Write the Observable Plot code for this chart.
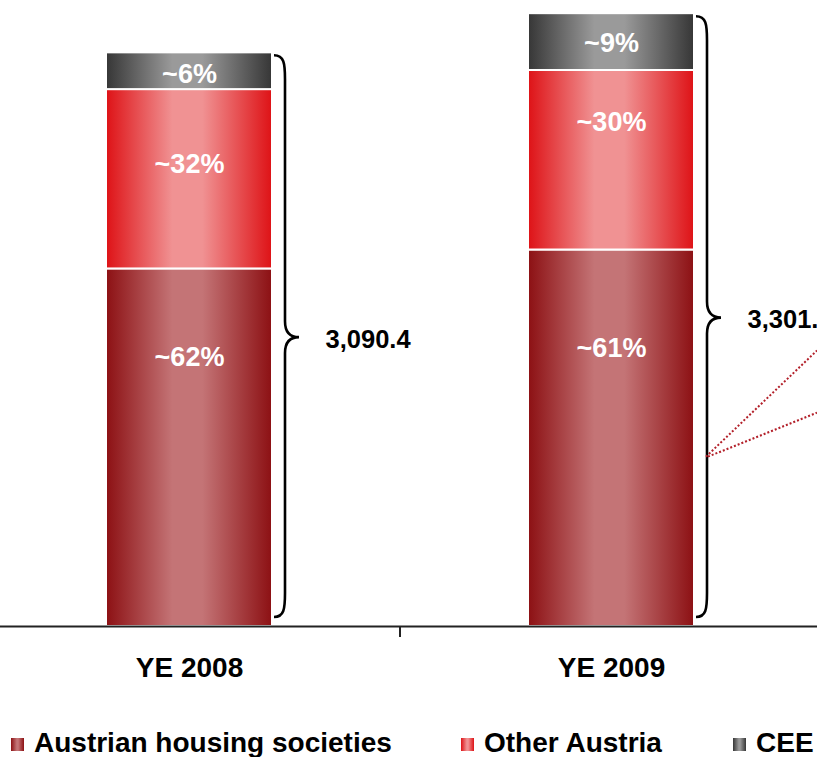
<!DOCTYPE html>
<html>
<head>
<meta charset="utf-8">
<script src="https://cdn.jsdelivr.net/npm/d3@7"></script>
<script src="https://cdn.jsdelivr.net/npm/@observablehq/plot@0.6"></script>
<style>
  html, body { margin: 0; padding: 0; background: #fff; overflow: hidden; }
  body { font-family: "Liberation Sans", Arial, sans-serif; color: #000; }
  #chart svg { display: block; overflow: hidden; }
  #legend { position: relative; height: 28px; font: bold 28px "Liberation Sans", Arial, sans-serif; line-height: 28px; white-space: nowrap; }
  #legend .item { position: absolute; top: 0; }
  #legend .sw { display: inline-block; width: 13px; height: 13px; margin-right: 10px; margin-bottom: 1px; vertical-align: baseline; }
</style>
</head>
<body>
<div id="chart"></div>
<div id="legend"></div>
<script>
// ---- data ----
const years = ["YE 2008", "YE 2009"];
const series = ["Austrian housing societies", "Other Austria", "CEE"];
const housing = [1926, 2028];
const otherAustria = [966, 967];
const cee = [198, 306];
const housingLabels = ["~62%", "~61%"];
const otherLabels = ["~32%", "~30%"];
const ceeLabels = ["~6%", "~9%"];
const totals = [3090.4, 3301];
const totalLabels = ["3,090.4", "3,301."];   // the reference shows the 2009 total cut at the edge
const annotationFrom = 912;          // value where the dotted lines start (YE 2009 brace)
const annotationTo = [1484, 1149];   // values where they leave the picture

// ---- style ----
const W = 817, H = 729, BASE = 626;
const gradIds = ["gHousing", "gOther", "gCee"];
const gradColors = [
  ["#8c1013", "#c47476"],
  ["#de1216", "#f09293"],
  ["#363636", "#9a9a9a"]
];
const labelDy = [[-90, -90], [-15, -38], [3, 1]]; // per series, per year (px)

const valuesBySeries = [housing, otherAustria, cee];
const labelsBySeries = [housingLabels, otherLabels, ceeLabels];

const rows = [];
const labelMarks = [];
years.forEach((year, i) => {
  let cum = 0;
  series.forEach((s, k) => {
    const v = valuesBySeries[k][i];
    rows.push({year, series: s, value: v});
    const mid = cum + v / 2;
    cum += v;
    labelMarks.push(Plot.text([{year, mid, label: labelsBySeries[k][i]}], {
      x: "year", y: "mid", text: "label", dy: labelDy[k][i],
      fill: "white", fontSize: 27, fontWeight: "bold"
    }));
  });
});
const totalRows = years.map((year, i) => ({year, total: totals[i], label: totalLabels[i]}));

const chart = Plot.plot({
  width: W,
  height: H,
  marginTop: 0,
  marginBottom: H - BASE,
  marginLeft: 0,
  marginRight: 0,
  style: {fontFamily: '"Liberation Sans", Arial, sans-serif', background: "white", overflow: "hidden"},
  x: {domain: years, range: [-21.8, 822.2], paddingInner: 0.6055, paddingOuter: 0.30275},
  y: {domain: [0, 3372], axis: null},
  color: {domain: series, range: gradIds.map(id => `url(#${id})`)},
  marks: [
    Plot.barY(rows, {x: "year", y: "value", fill: "series", stroke: "white", strokeWidth: 2}),
    ...labelMarks,
    Plot.text(totalRows, {
      x: "year", y: d => d.total / 2, text: "label", dx: 136,
      textAnchor: "start", fontSize: 25.5, fontWeight: "bold", fill: "black"
    }),
    Plot.ruleY([0], {stroke: "#222", strokeWidth: 2}),
    Plot.axisX({tickSize: 0, tickPadding: 31, fontSize: 28, fontWeight: "bold", label: null, fill: "black"})
  ]
});

document.getElementById("chart").appendChild(chart);

// gradients
const svg = d3.select(chart);
const defs = svg.insert("defs", ":first-child");
gradIds.forEach((id, k) => {
  const [dark, light] = gradColors[k];
  const g = defs.append("linearGradient").attr("id", id).attr("x1", 0).attr("x2", 1).attr("y1", 0).attr("y2", 0);
  [[0, dark], [0.4, light], [0.58, light], [1, dark]].forEach(([o, c]) =>
    g.append("stop").attr("offset", o).attr("stop-color", c));
});

// braces, category tick and dotted annotation lines, placed with Plot's scales
const xs = chart.scale("x"), ys = chart.scale("y");
const bw = xs.bandwidth;
const y0 = ys.apply(0);
const over = svg.append("g");
years.forEach((year, i) => {
  const xr = xs.apply(year) + bw;
  const x0 = xr + 2, x1 = xr + 13, x2 = xr + 27;
  const yTop = ys.apply(totals[i]) + 3;
  const yBot = y0 - 9;
  const yMid = ys.apply(totals[i] / 2) - 2;
  const p = `M${x0},${yTop} C${x1 - 1},${yTop} ${x1},${yTop + 8} ${x1},${yTop + 24}
    L${x1},${yMid - 16} C${x1},${yMid - 5} ${x1 + 5},${yMid} ${x2},${yMid}
    C${x1 + 5},${yMid} ${x1},${yMid + 5} ${x1},${yMid + 16}
    L${x1},${yBot - 24} C${x1},${yBot - 8} ${x1 - 1},${yBot} ${x0},${yBot}`;
  over.append("path").attr("d", p).attr("fill", "none").attr("stroke", "black").attr("stroke-width", 2.6);
});
const xm = (xs.apply(years[0]) + bw + xs.apply(years[1])) / 2;
over.append("line").attr("x1", xm).attr("x2", xm).attr("y1", y0).attr("y2", y0 + 11)
  .attr("stroke", "#222").attr("stroke-width", 2);
const xa = xs.apply(years[1]) + bw + 13;
annotationTo.forEach((v, k) => {
  over.append("line")
    .attr("x1", xa - 1 + 2 * k).attr("y1", ys.apply(annotationFrom))
    .attr("x2", W).attr("y2", ys.apply(v))
    .attr("stroke", "#b3202a").attr("stroke-width", 2).attr("stroke-dasharray", "2,2");
});

// legend
const legend = d3.select("#legend");
const legendLeft = [11, 461, 733];
series.forEach((s, k) => {
  const [dark, light] = gradColors[k];
  const item = legend.append("span").attr("class", "item").style("left", legendLeft[k] + "px");
  item.append("span").attr("class", "sw")
    .style("background", `linear-gradient(to right, ${dark}, ${light} 45%, ${light} 55%, ${dark})`);
  item.append("span").text(s);
});
</script>
</body>
</html>
